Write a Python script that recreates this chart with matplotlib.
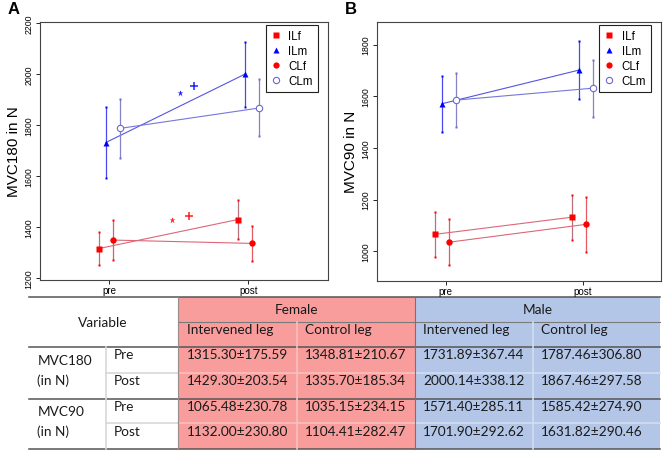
import numpy as np
import matplotlib.pyplot as plt
from matplotlib.patches import Rectangle
from matplotlib.lines import Line2D

# order of groups: ILf, CLf, ILm, CLm (female intervened, female control, male intervened, male control)
groups = ['ILf', 'CLf', 'ILm', 'CLm']
mvc180_pre = [1315.30, 1348.81, 1731.89, 1787.46]
mvc180_pre_sd = [175.59, 210.67, 367.44, 306.80]
mvc180_post = [1429.30, 1335.70, 2000.14, 1867.46]
mvc180_post_sd = [203.54, 185.34, 338.12, 297.58]
mvc90_pre = [1065.48, 1035.15, 1571.40, 1585.42]
mvc90_pre_sd = [230.78, 234.15, 285.11, 274.90]
mvc90_post = [1132.00, 1104.41, 1701.90, 1631.82]
mvc90_post_sd = [230.80, 282.47, 292.62, 290.46]

# error bar half-widths
mvc180_pre_err = [66, 80, 139, 116]
mvc180_post_err = [77, 70, 128, 112]
mvc90_pre_err = [87, 88, 108, 104]
mvc90_post_err = [87, 107, 111, 110]

# significance marks in panel A (x, y)
star_blue = (1.507, 1928)
plus_blue = (1.609, 1953)
star_red = (1.447, 1426)
plus_red = (1.572, 1442)

times = ['pre', 'post']

offset = {'ILf': -0.078, 'ILm': -0.026, 'CLf': 0.026, 'CLm': 0.078}
marker = {'ILf': 's', 'ILm': '^', 'CLf': 'o', 'CLm': 'o'}
mcol = {'ILf': '#ff0000', 'ILm': '#0000ff', 'CLf': '#ff0000', 'CLm': '#6a6ad0'}
lcol = {'ILf': '#dd6677', 'ILm': '#5555e0', 'CLf': '#dd6677', 'CLm': '#7777d8'}
ecol = {'ILf': '#b8707c', 'ILm': '#4a4aee', 'CLf': '#e65a66', 'CLm': '#8484c4'}

W, H = 666, 456
fig = plt.figure(figsize=(W / 100, H / 100), dpi=100)
plt.rcParams['font.family'] = ['Liberation Sans', 'DejaVu Sans']


def px_axes(l, t, r, b):
    return fig.add_axes([l / W, 1 - b / H, (r - l) / W, (b - t) / H])


def panel(ax, pre, post, pre_e, post_e, ylim, yticks, ylabel):
    for i, g in enumerate(groups):
        x = np.array([1, 2]) + offset[g]
        y = np.array([pre[i], post[i]])
        e = np.array([pre_e[i], post_e[i]])
        ax.plot(x, y, color=lcol[g], lw=0.8, zorder=2)
        ax.vlines(x, y - e, y + e, color=ecol[g], lw=0.9, zorder=2)
        ax.plot(np.r_[x, x], np.r_[y - e, y + e], ls='none', marker='s', ms=2.0,
                color=mcol[g], mec='none', zorder=3)
        if g == 'CLm':
            ax.plot(x, y, ls='none', marker='o', ms=4.6, mfc='white', mec=mcol[g], mew=0.8, zorder=4)
        else:
            ax.plot(x, y, ls='none', marker=marker[g], ms=4.6, color=mcol[g], mec='none', zorder=4)
    ax.set_xlim(0.5, 2.57)
    ax.set_ylim(*ylim)
    ax.set_xticks([1, 2], times)
    ax.set_yticks(yticks)
    ax.tick_params(axis='x', labelsize=7, length=3, width=0.6, pad=1)
    ax.tick_params(axis='y', labelsize=6.3, length=3, width=0.6, pad=1.5, labelrotation=90)
    for lab in ax.get_yticklabels():
        lab.set_va('center')
    for s in ax.spines.values():
        s.set_linewidth(0.8)
        s.set_color('#444444')
    ax.set_ylabel(ylabel, fontsize=11, labelpad=3)
    handles = [Line2D([], [], ls='none', marker='s', ms=4, color='#ff0000', mec='none'),
               Line2D([], [], ls='none', marker='^', ms=4.5, color='#0000ff', mec='none'),
               Line2D([], [], ls='none', marker='o', ms=4.5, color='#ff0000', mec='none'),
               Line2D([], [], ls='none', marker='o', ms=4.5, mfc='white', mec='#6a6ad0', mew=0.8)]
    leg = ax.legend(handles, ['ILf', 'ILm', 'CLf', 'CLm'], loc='upper right',
                    bbox_to_anchor=(0.966, 0.988), borderaxespad=0, fontsize=8.3,
                    fancybox=False, edgecolor='#222222', framealpha=1,
                    handlelength=0.8, handletextpad=0.7, labelspacing=0.25,
                    borderpad=0.45)
    leg.get_frame().set_linewidth(0.8)


axA = px_axes(40, 23, 327.7, 280.5)
panel(axA, mvc180_pre, mvc180_post, mvc180_pre_err, mvc180_post_err,
      (1194, 2205), [1200, 1400, 1600, 1800, 2000, 2200], 'MVC180 in N')
axA.plot(*star_blue, ls='none', marker='*', ms=4.5, color='#2020ff', mec='none')
axA.plot(*plus_blue, ls='none', marker='+', ms=5.5, color='#2020ff', mew=1.1)
axA.plot(*star_red, ls='none', marker='*', ms=4.5, color='#ff2020', mec='none')
axA.plot(*plus_red, ls='none', marker='+', ms=5.5, color='#ff2020', mew=1.1)

axB = px_axes(377, 22.7, 661, 281.7)
panel(axB, mvc90_pre, mvc90_post, mvc90_pre_err, mvc90_post_err,
      (886, 1889), [1000, 1200, 1400, 1600, 1800], 'MVC90 in N')

fig.text(8 / W, 1 - 2 / H, 'A', fontsize=12, fontweight='bold', va='top')
fig.text(345 / W, 1 - 2 / H, 'B', fontsize=12, fontweight='bold', va='top')

# ---- table ----
tab = fig.add_axes([0, 0, 1, 1], zorder=-1)
tab.set_xlim(0, W)
tab.set_ylim(H, 0)
tab.axis('off')

xs = [29.3, 106, 178.3, 296.7, 415, 532.7, 660]
ys = [298.3, 322.7, 347.7, 373.7, 400, 424.3, 450]
pink = '#f89c9c'
blue = '#b4c6e7'
tab.add_patch(Rectangle((xs[2], ys[0]), xs[4] - xs[2], ys[6] - ys[0], color=pink, lw=0))
tab.add_patch(Rectangle((xs[4], ys[0]), xs[6] - xs[4], ys[6] - ys[0], color=blue, lw=0))

dark = '#555555'
for y in [ys[0], ys[2], ys[4], ys[6]]:
    tab.plot([xs[0], xs[6]], [y, y], color=dark, lw=1.1)
tab.plot([xs[2], xs[6]], [ys[1], ys[1]], color='#7a7a7a', lw=0.8)
for y in [ys[3], ys[5]]:
    tab.plot([xs[1], xs[2]], [y, y], color='#d8d8d8', lw=1.2)
    tab.plot([xs[2], xs[4]], [y, y], color='#fbc0c0', lw=1.2)
    tab.plot([xs[4], xs[6]], [y, y], color='#d2ddf0', lw=1.2)
tab.plot([xs[1], xs[1]], [ys[2], ys[6]], color='#d8d8d8', lw=1.2)
tab.plot([xs[3], xs[3]], [ys[1], ys[6]], color='#fbc0c0', lw=1.2)
tab.plot([xs[5], xs[5]], [ys[1], ys[6]], color='#d2ddf0', lw=1.2)
tab.plot([xs[2], xs[2]], [ys[0], ys[6]], color='#9a8a8a', lw=0.8)
tab.plot([xs[4], xs[4]], [ys[0], ys[6]], color='#b05a5a', lw=0.8)

tf = dict(fontsize=9.8, family=['Lato', 'DejaVu Sans'], color='#1a1a1a')
tab.text(103, 323, 'Variable', ha='center', va='center', **tf)
tab.text((xs[2] + xs[4]) / 2, 310, 'Female', ha='center', va='center', **tf)
tab.text((xs[4] + xs[6]) / 2, 310, 'Male', ha='center', va='center', **tf)
for x0 in [xs[2], xs[4]]:
    tab.text(x0 + 8.4, 330, 'Intervened leg', ha='left', va='center', **tf)
for x0 in [xs[3], xs[5]]:
    tab.text(x0 + 8, 330, 'Control leg', ha='left', va='center', **tf)

tab.text(37.3, 361.5, 'MVC180', ha='left', va='center', **tf)
tab.text(37.3, 381, '(in N)', ha='left', va='center', **tf)
tab.text(37.3, 412.5, 'MVC90', ha='left', va='center', **tf)
tab.text(37.3, 431.5, '(in N)', ha='left', va='center', **tf)

row_y = [355, 381, 406.7, 431.7]
row_names = ['Pre', 'Post', 'Pre', 'Post']
rows_mean = [mvc180_pre, mvc180_post, mvc90_pre, mvc90_post]
rows_sd = [mvc180_pre_sd, mvc180_post_sd, mvc90_pre_sd, mvc90_post_sd]
col_x = [xs[2] + 8.4, xs[3] + 8, xs[4] + 8.4, xs[5] + 8]
for ry, name, m, s in zip(row_y, row_names, rows_mean, rows_sd):
    tab.text(114, ry, name, ha='left', va='center', **tf)
    for cx, mv, sv in zip(col_x, m, s):
        tab.text(cx, ry, f'{mv:.2f}±{sv:.2f}', ha='left', va='center', **tf)

fig.savefig('out.png', dpi=100)
